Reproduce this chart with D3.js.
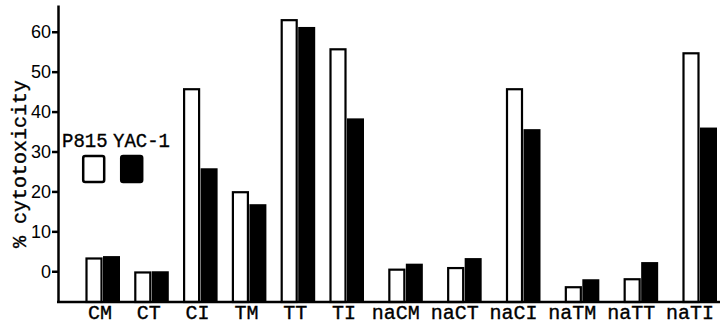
<!DOCTYPE html>
<html>
<head>
<meta charset="utf-8">
<script src="https://cdn.jsdelivr.net/npm/d3@7"></script>
<style>
  body { margin: 0; background: #fff; }
  #chart svg { display: block; }
  .axis text { font-family: "Liberation Sans", Arial, sans-serif; font-size: 18px; fill: #000; }
  .axis path, .axis line { stroke: #000; stroke-width: 2.5px; }
  .mono { font-family: "Liberation Mono", "Courier New", monospace; fill: #000; stroke: #000; stroke-width: 0.35px; }
</style>
</head>
<body>
<div id="chart"></div>
<script>

// data (% cytotoxicity)
var categories = ["CM", "CT", "CI", "TM", "TT", "TI", "naCM", "naCT", "naCI", "naTM", "naTT", "naTI"];
var seriesNames = ["P815", "YAC-1"];
var p815 = [3.2, -0.3, 45.6, 19.8, 62.9, 55.6, 0.4, 0.8, 45.6, -4.0, -2.0, 54.6];
var yac1 = [3.8, 0.0, 25.8, 16.8, 61.2, 38.3, 1.9, 3.3, 35.6, -2.0, 2.3, 36.0];
var yTicks = [0, 10, 20, 30, 40, 50, 60];
var yMin = -7.7, yMax = 66.7;

var width = 720, height = 326;

var svg = d3.select("#chart").append("svg")
  .attr("width", width)
  .attr("height", height);

// Scales
var y = d3.scaleLinear()
  .domain([yMin, yMax])
  .range([302, 5]);

// index -> centre of each pair; the "na" group is spread a bit wider
var x = d3.scaleLinear()
  .domain([0, 5, categories.length - 1])
  .range([103, 347, 700]);

var barW = 17;

// bars (drawn up from the bottom of the axis)
var g = svg.append("g");

g.selectAll(".p815")
  .data(p815)
  .enter().append("rect")
    .attr("class", "p815")
    .attr("x", function(d, i) { return x(i) - barW + 0.5; })
    .attr("width", barW - 2)
    .attr("y", function(d) { return y(d); })
    .attr("height", function(d) { return y(yMin) - y(d); })
    .attr("fill", "#fff")
    .attr("stroke", "#000")
    .attr("stroke-width", 2.2);

g.selectAll(".yac1")
  .data(yac1)
  .enter().append("rect")
    .attr("class", "yac1")
    .attr("x", function(d, i) { return x(i); })
    .attr("width", barW)
    .attr("y", function(d) { return y(d); })
    .attr("height", function(d) { return y(yMin) - y(d); })
    .attr("fill", "#000");

// Axes
var yAxis = d3.axisLeft(y)
  .tickValues(yTicks)
  .tickSize(6)
  .tickSizeOuter(0)
  .tickPadding(1);

svg.append("g")
  .attr("class", "y-axis axis")
  .attr("transform", "translate(58,0)")
  .call(yAxis);

svg.append("line")
  .attr("x1", 57)
  .attr("x2", width)
  .attr("y1", y(yMin))
  .attr("y2", y(yMin))
  .attr("stroke", "#000")
  .attr("stroke-width", 2.5);

// category labels
svg.selectAll(".cat")
  .data(categories)
  .enter().append("text")
    .attr("class", "cat mono")
    .attr("x", function(d, i) { return x(i) - (i > 5 ? 10 : 3); })
    .attr("y", 319)
    .attr("text-anchor", "middle")
    .attr("font-size", 20)
    .text(function(d) { return d; });

// y title
svg.append("text")
  .attr("class", "mono")
  .attr("transform", "translate(26,164) rotate(-90)")
  .attr("text-anchor", "middle")
  .attr("font-size", 20)
  .attr("textLength", 168)
  .attr("lengthAdjust", "spacingAndGlyphs")
  .text("% cytotoxicity");

// legend
var legend = svg.append("g").attr("class", "legend");
var legendText = [62, 113];
var legendBox = [82, 120];

legend.selectAll("text")
  .data(seriesNames)
  .enter().append("text")
    .attr("class", "mono")
    .attr("x", function(d, i) { return legendText[i]; })
    .attr("y", 147)
    .attr("font-size", 20)
    .attr("textLength", function(d) { return d.length * 11.4; })
    .attr("lengthAdjust", "spacingAndGlyphs")
    .text(function(d) { return d; });

legend.selectAll("rect")
  .data(seriesNames)
  .enter().append("rect")
    .attr("x", function(d, i) { return legendBox[i] + 1.2; })
    .attr("y", 156)
    .attr("width", 21)
    .attr("height", 26)
    .attr("rx", 2)
    .attr("fill", function(d, i) { return i === 0 ? "#fff" : "#000"; })
    .attr("stroke", "#000")
    .attr("stroke-width", 2.5);

</script>
</body>
</html>
